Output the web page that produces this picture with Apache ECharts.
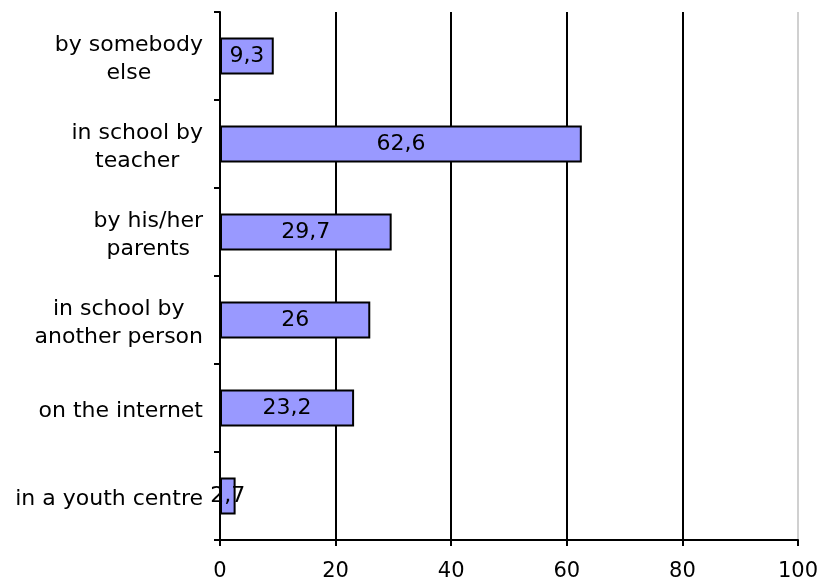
<!DOCTYPE html>
<html>
<head>
<meta charset="utf-8">
<script src="https://cdn.jsdelivr.net/npm/echarts@6/dist/echarts.min.js"></script>
<style>
  html, body { margin: 0; padding: 0; background: #fff; }
  #chart { width: 820px; height: 582px; }
</style>
</head>
<body>
<div id="chart"></div>
<script>
// categories, top to bottom
const categories = [
  'by somebody\nelse',
  'in school by\nteacher',
  'by his/her\nparents',
  'in school by\nanother person',
  'on the internet',
  'in a youth centre'
]
const values = [9.3, 62.6, 29.7, 26, 23.2, 2.7]
const xTicks = [0, 20, 40, 60, 80, 100]

const font = 'DejaVu Sans, Verdana, sans-serif'
const chart = echarts.init(document.getElementById('chart'))

chart.setOption({
  animation: false,
  backgroundColor: '#fff',
  grid: { left: 220, right: 22, top: 12, bottom: 42, containLabel: false, outerBoundsMode: 'none' },
  xAxis: {
    type: 'value',
    min: xTicks[0],
    max: xTicks[xTicks.length - 1],
    interval: 20,
    axisLine: { show: true, lineStyle: { color: '#000', width: 2 } },
    axisTick: { show: true, length: 6, lineStyle: { color: '#000', width: 2 } },
    axisLabel: { color: '#000', fontSize: 21, fontFamily: font, margin: 21 },
    splitLine: {
      show: true,
      // last line (at 100) is light grey in the original
      lineStyle: { color: ['#000', '#000', '#000', '#000', '#000', '#d0d0d0'], width: 2 }
    }
  },
  yAxis: {
    type: 'category',
    inverse: true,
    data: categories,
    axisLine: { show: true, lineStyle: { color: '#000', width: 2 } },
    axisTick: { show: true, length: 6, lineStyle: { color: '#000', width: 2 } },
    axisLabel: {
      color: '#000',
      fontSize: 22,
      fontFamily: font,
      margin: 17,
      align: 'right',
      lineHeight: 28,
      padding: [6, 0, 0, 0],
      // each line centred inside a right-aligned block
      formatter: v => v.split('\n').map(s => '{c|' + s + '}').join('\n'),
      rich: { c: { align: 'center', fontSize: 22, fontFamily: font, color: '#000', lineHeight: 28 } }
    }
  },
  series: [{
    type: 'bar',
    data: values,
    barWidth: '42%',
    itemStyle: { color: '#9999ff', borderColor: '#000', borderWidth: 2 },
    label: {
      show: true,
      position: 'inside',
      color: '#000',
      fontSize: 22,
      fontFamily: font,
      formatter: p => String(p.value).replace('.', ',')
    }
  }]
})
</script>
</body>
</html>
